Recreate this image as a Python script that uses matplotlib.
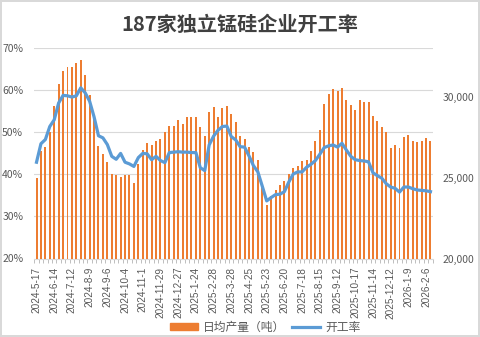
import matplotlib
matplotlib.use("Agg")
import matplotlib.pyplot as plt
import numpy as np

plt.rcParams['font.family'] = ['Noto Sans CJK SC', 'DejaVu Sans']

# ---------------- data ----------------
title = "187家独立锰硅企业开工率"
bar_name = "日均产量（吨）"
line_name = "开工率"

# daily output (tons), weekly, 90 weeks
output = [24990, 26630, 26920, 27800, 29440, 30790, 31600, 31830, 31830, 32090,
          32270, 31340, 30110, 28710, 26970, 26450, 25950, 25250, 25150, 25070,
          25170, 25150, 24680, 25850, 26680, 27150, 27050, 27280, 27380, 27830,
          28190, 28190, 28580, 28320, 28740, 28740, 28740, 28110, 27570, 29050,
          29360, 28740, 29280, 29410, 28920, 28450, 27570, 27360, 26920, 26580,
          26080, 24550, 23280, 23870, 24260, 24520, 24780, 25230, 25620, 25750,
          26010, 26080, 26660, 27280, 27960, 29570, 30170, 30480, 30370, 30530,
          29800, 29490, 29180, 29800, 29650, 29700, 28810, 28500, 28110, 27800,
          26860, 27020, 26860, 27490, 27640, 27280, 27230, 27280, 27440, 27280]

# operating rate (%)
rate = [42.9, 47.3, 48.3, 51.4, 53.0, 57.0, 58.8, 58.7, 58.4, 58.7,
        60.6, 59.4, 57.4, 53.7, 49.2, 48.7, 47.1, 44.3, 43.6, 45.0,
        42.9, 42.5, 41.9, 44.0, 45.0, 44.9, 43.5, 44.3, 43.3, 42.8,
        45.2, 45.3, 45.4, 45.3, 45.3, 45.2, 45.2, 41.6, 40.9, 47.0,
        49.1, 50.5, 51.4, 51.5, 49.0, 48.2, 46.6, 46.5, 44.4, 42.1,
        40.6, 37.2, 33.7, 34.5, 35.2, 35.3, 35.9, 38.2, 40.1, 40.6,
        40.6, 41.7, 42.4, 43.3, 44.8, 46.4, 46.8, 47.0, 46.5, 47.4,
        45.8, 44.3, 43.5, 43.3, 43.2, 43.0, 40.4, 39.7, 39.1, 37.8,
        37.0, 36.7, 35.8, 37.0, 37.0, 36.6, 36.3, 36.2, 36.1, 35.9]

# shown category labels (every 4th week)
tick_labels = ["2024-5-17", "2024-6-14", "2024-7-12", "2024-8-9", "2024-9-6",
               "2024-10-4", "2024-11-1", "2024-11-29", "2024-12-27", "2025-1-24",
               "2025-2-28", "2025-3-28", "2025-4-25", "2025-5-23", "2025-6-20",
               "2025-7-18", "2025-8-15", "2025-9-12", "2025-10-17", "2025-11-14",
               "2025-12-12", "2026-1-9", "2026-2-6"]
label_step = 4

left_ticks = [20, 30, 40, 50, 60, 70]
right_ticks = [20000, 25000, 30000]

# ---------------- style ----------------
BAR_C = "#ED7D31"
LINE_C = "#5B9BD5"
GRID_C = "#D9D9D9"
TXT_C = "#595959"

fig = plt.figure(figsize=(4.8, 3.37), dpi=100)
fig.patch.set_facecolor("white")
fig.patch.set_edgecolor("#D9D9D9")
fig.patch.set_linewidth(1.5)

rect = [34.3 / 480, 1 - 258.5 / 337, (432.7 - 34.3) / 480, (258.5 - 48.3) / 337]
ax = fig.add_axes(rect)          # grid + left axis
axb = ax.twinx()                 # bars (right axis)
axl = ax.twinx()                 # line (same scale as left)

n = len(output)
x = np.arange(n)

# left axis / grid
ax.set_ylim(20, 70)
ax.set_yticks(left_ticks)
ax.set_yticklabels([f"{t}%" for t in left_ticks])
ax.yaxis.grid(True, color=GRID_C, linewidth=0.8)
ax.set_axisbelow(True)

# bars
axb.bar(x, output, width=0.45, color=BAR_C, zorder=2)
axb.set_ylim(20000, 33000)
axb.set_yticks(right_ticks)
axb.set_yticklabels([f"{t:,}" for t in right_ticks])

# line
axl.plot(x, rate, color=LINE_C, linewidth=2.3, solid_joinstyle="round", zorder=3)
axl.set_ylim(20, 70)
axl.set_yticks([])

for a in (ax, axb, axl):
    a.set_xlim(-0.5, n - 0.5)
    for s in a.spines.values():
        s.set_visible(False)

ax.spines["bottom"].set_visible(True)
ax.spines["bottom"].set_color(GRID_C)
ax.spines["bottom"].set_linewidth(0.8)

ax.set_xticks(np.arange(0, label_step * len(tick_labels), label_step))
ax.set_xticklabels(tick_labels, rotation=90, fontsize=7.2, color=TXT_C,
                   family=['Liberation Sans', 'DejaVu Sans'])
ax.set_xticks(np.arange(-0.5, n, 1), minor=True)
ax.tick_params(axis="x", which="major", length=0, pad=6)
ax.tick_params(axis="x", which="minor", length=3, color="#BFBFBF", width=0.7)
ax.tick_params(axis="y", length=0, labelsize=7.5, labelcolor=TXT_C, pad=8)
axb.tick_params(axis="y", length=0, labelsize=7.5, labelcolor=TXT_C, pad=7)
axl.tick_params(axis="both", length=0, labelbottom=False)
axb.tick_params(axis="x", which="both", length=0, labelbottom=False)

fig.text(240 / 480, 1 - 24 / 337, title, ha="center", va="center",
         fontsize=14.5, fontweight="bold", color="#404040")

from matplotlib.patches import Patch
from matplotlib.lines import Line2D
handles = [Patch(facecolor=BAR_C, edgecolor=BAR_C),
           Line2D([0], [0], color=LINE_C, linewidth=2.3)]
leg = fig.legend(handles, [bar_name, line_name], loc="center",
                 bbox_to_anchor=(265 / 480, 1 - 327 / 337), ncol=2,
                 frameon=False, fontsize=8.5, handlelength=2.4,
                 handleheight=0.5, handletextpad=0.4, columnspacing=0.6,
                 labelcolor=TXT_C)

fig.savefig("out.png", dpi=100)
